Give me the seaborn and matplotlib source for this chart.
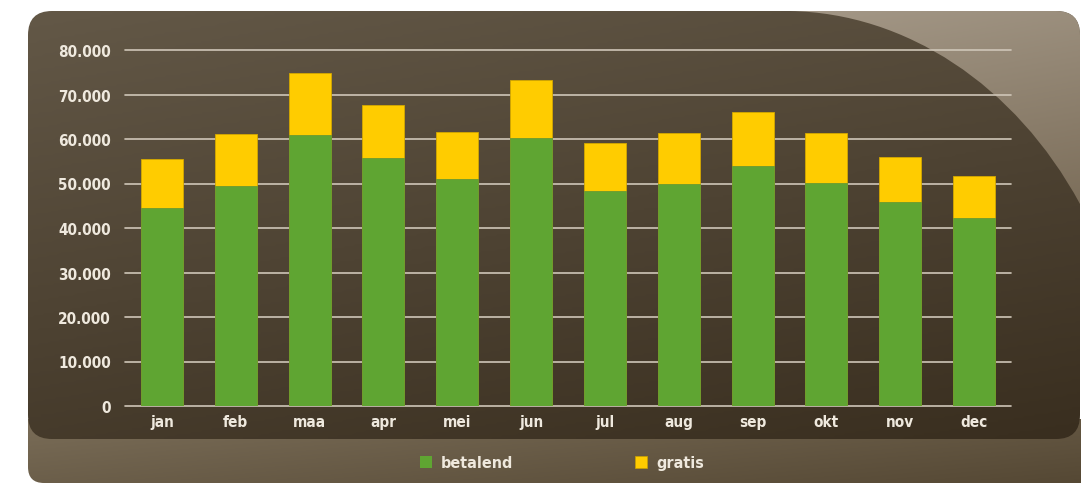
import matplotlib
matplotlib.use("Agg")
import matplotlib.pyplot as plt
import numpy as np
import pandas as pd
import seaborn as sns
from matplotlib.patches import FancyBboxPatch, Patch, PathPatch
from matplotlib.path import Path
from matplotlib.colors import LinearSegmentedColormap
from matplotlib import font_manager

# data
months = ["jan", "feb", "maa", "apr", "mei", "jun", "jul", "aug", "sep", "okt", "nov", "dec"]
betalend = [44400, 49400, 61000, 55700, 51100, 60200, 48400, 50000, 54000, 50100, 45800, 42300]
gratis = [11000, 11700, 13900, 11850, 10550, 12950, 10700, 11250, 12050, 11150, 10250, 9400]
yticks = [0, 10000, 20000, 30000, 40000, 50000, 60000, 70000, 80000]
ytick_labels = ["0", "10.000", "20.000", "30.000", "40.000", "50.000", "60.000", "70.000", "80.000"]

GREEN = "#5fa532"
YELLOW = "#ffcc00"
LABEL = "#efe9de"

# a condensed bold face if one is around
names = {f.name for f in font_manager.fontManager.ttflist}
FONT = [n for n in ["Liberation Sans Narrow", "DejaVu Sans"] if n in names]

df = pd.DataFrame({"maand": months, "betalend": betalend, "gratis": gratis})
df["totaal"] = df["betalend"] + df["gratis"]

sns.set_theme(style="white")
plt.rcParams["font.family"] = FONT
plt.rcParams["font.stretch"] = "condensed"

W, H = 1081, 485
fig = plt.figure(figsize=(W / 100, H / 100), dpi=100)
fig.patch.set_facecolor("white")

# background panels, drawn in pixel coordinates
bg = fig.add_axes([0, 0, 1, 1], zorder=0)
bg.set_xlim(0, W)
bg.set_ylim(H, 0)
bg.axis("off")


def gradient_fill(ax, clip, c1, c2, extent, angle=0.35):
    yy, xx = np.mgrid[0:1:200j, 0:1:200j]
    g = (xx * angle + yy * (1 - angle))
    cmap = LinearSegmentedColormap.from_list("g", [c1, c2])
    im = ax.imshow(g, cmap=cmap, extent=extent, aspect="auto", zorder=clip.get_zorder())
    im.set_clip_path(clip)


# lower (legend) plate
lower = FancyBboxPatch((28, 30), W + 40, H - 31, boxstyle="round,pad=0,rounding_size=16",
                       fc="none", ec="none", zorder=1)
bg.add_patch(lower)
gradient_fill(bg, lower, "#7a6d58", "#554834", (28, W, H, 420), angle=0.6)

# main plate
main = FancyBboxPatch((28, 12), W - 28 - 1, 428, boxstyle="round,pad=0,rounding_size=24",
                      fc="none", ec="none", zorder=2)
bg.add_patch(main)
gradient_fill(bg, main, "#635847", "#392e1f", (28, W, 440, 12), angle=0.3)

# light curved shape top right
R = 24
verts = [(790, 12), (905, 14), (1015, 85), (W - 1, 205), (W - 1, 12 + R), (W - 1, 12), (W - 1 - R, 12), (790, 12)]
codes = [Path.MOVETO, Path.CURVE4, Path.CURVE4, Path.CURVE4, Path.LINETO, Path.CURVE3, Path.CURVE3, Path.CLOSEPOLY]
swoosh = PathPatch(Path(verts, codes), fc="none", ec="none", zorder=3)
bg.add_patch(swoosh)
gradient_fill(bg, swoosh, "#a39786", "#7a6c58", (790, W, 220, 12), angle=0.2)

# chart
ax = fig.add_axes([125 / W, (H - 407) / H, (1011 - 125) / W, (407 - 51) / H], zorder=5)
ax.patch.set_alpha(0)
for y in yticks:
    ax.axhline(y, color="#cfc6b8", lw=1.2, zorder=0, clip_on=False)

sns.barplot(data=df, x="maand", y="totaal", color=YELLOW, width=0.57, saturation=1,
            edgecolor="#d4a800", linewidth=0.6, ax=ax, zorder=2)
sns.barplot(data=df, x="maand", y="betalend", color=GREEN, width=0.57, saturation=1,
            edgecolor="#6a9a30", linewidth=0.6, ax=ax, zorder=3)

ax.set_xlim(-0.5, len(months) - 0.5)
ax.set_ylim(0, 80000)
ax.set_yticks(yticks)
ax.set_yticklabels(ytick_labels)
ax.set_xlabel("")
ax.set_ylabel("")
ax.tick_params(axis="both", length=0, labelcolor=LABEL, labelsize=11)
ax.tick_params(axis="y", pad=10)
ax.tick_params(axis="x", pad=6)
for lab in ax.get_xticklabels() + ax.get_yticklabels():
    lab.set_fontweight("bold")
    lab.set_family(FONT)
    lab.set_fontstretch("condensed")
sns.despine(ax=ax, left=True, bottom=True)

handles = [Patch(fc=GREEN, ec="none", label="betalend"), Patch(fc=YELLOW, ec="#c9a000", lw=0.5, label="gratis")]
leg = fig.legend(handles=handles, loc="center", bbox_to_anchor=(562 / W, (H - 464) / H), ncol=2,
                 frameon=False, handlelength=0.75, handleheight=0.75, handletextpad=0.6,
                 columnspacing=7.6, prop={"family": FONT, "weight": "bold", "size": 11.5,
                                          "stretch": "condensed"})
for t in leg.get_texts():
    t.set_color(LABEL)

fig.savefig("out.png", dpi=100, facecolor=fig.get_facecolor())
